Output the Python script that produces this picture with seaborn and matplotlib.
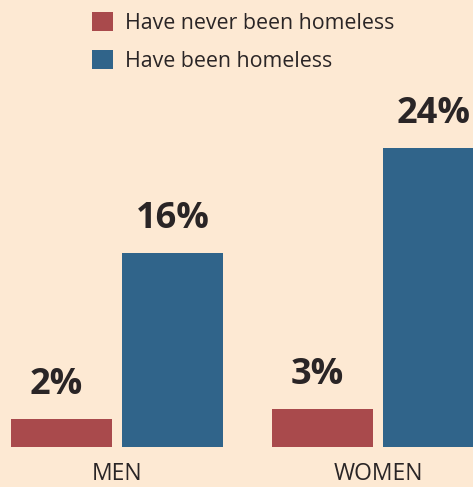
import matplotlib
matplotlib.use("Agg")
import matplotlib.pyplot as plt
import seaborn as sns
import pandas as pd
from matplotlib.patches import Patch

groups = ["MEN", "WOMEN"]
series = ["Have never been homeless", "Have been homeless"]
never_vals = [2.25, 3.05]
been_vals = [15.6, 24.0]
never_labels = ["2%", "3%"]
been_labels = ["16%", "24%"]

BG = "#FDE9D3"
RED = "#A94A4C"
BLUE = "#30648A"
TXT = "#2A2526"

df = pd.DataFrame({
    "group": groups * 2,
    "series": [series[0]] * 2 + [series[1]] * 2,
    "value": never_vals + been_vals,
})

sns.set_theme(style="white")
plt.rcParams["font.family"] = ["Open Sans", "DejaVu Sans"]

fig = plt.figure(figsize=(4.73, 4.87), dpi=100)
fig.patch.set_facecolor(BG)
ax = fig.add_axes([0, 40 / 487, 1, 447 / 487])
ax.set_facecolor(BG)

sns.barplot(data=df, x="group", y="value", hue="series", hue_order=series,
            palette=[RED, BLUE], width=0.85, gap=0.09, ax=ax, legend=False,
            saturation=1, linewidth=0, edgecolor="none")

ax.set_xlim(-117 / 261, 356 / 261)
ax.set_ylim(0, 447 / 12.45)
for s in ax.spines.values():
    s.set_visible(False)
ax.set_yticks([])
ax.set_xlabel("")
ax.set_ylabel("")
ax.tick_params(axis="x", length=0, pad=11, labelsize=16.5, labelcolor=TXT)

shifts = [-0.022, 0.0]
for cont, labels, dx in zip(ax.containers, [never_labels, been_labels], shifts):
    for bar, lab in zip(cont, labels):
        cx = bar.get_x() + bar.get_width() / 2 + dx
        ax.text(cx, bar.get_height() + 2.75, lab, ha="center", va="center",
                fontsize=26, fontweight="bold", color=TXT)

handles = [Patch(facecolor=RED, edgecolor="none"), Patch(facecolor=BLUE, edgecolor="none")]
fig.legend(handles, series, loc="upper left", bbox_to_anchor=(80 / 473, 1.0),
           frameon=False, fontsize=15.4, handlelength=1.0, handleheight=1.0,
           handletextpad=0.55, labelspacing=0.75, labelcolor=TXT,
           borderaxespad=0.25, borderpad=0.3)

fig.savefig("out.png", dpi=100, facecolor=BG)
